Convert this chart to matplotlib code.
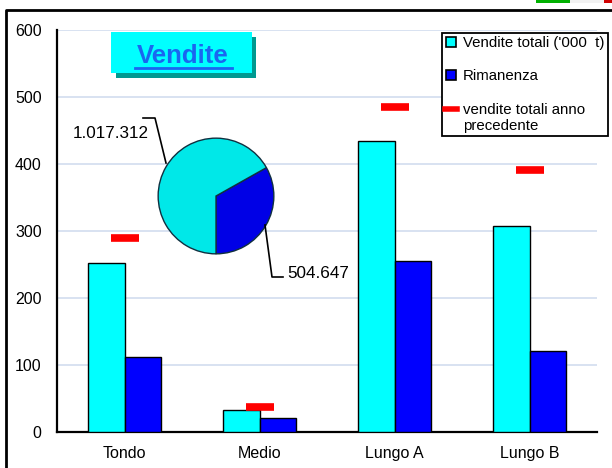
import numpy as np
import matplotlib.pyplot as plt
from matplotlib.lines import Line2D
from matplotlib.patches import Rectangle
from matplotlib.legend_handler import HandlerLine2D

plt.rcParams.update({
    'font.family': ['Liberation Sans', 'DejaVu Sans'],
    'font.size': 11.5,
})

# data
categories = ['Tondo', 'Medio', 'Lungo A', 'Lungo B']
vendite_totali = [252, 33, 434, 307]
rimanenza = [112, 21, 255, 121]
vendite_anno_prec = [290, 37, 485, 391]
pie_values = [504647, 1017312]          # rimanenza, vendite
pie_labels = ['504.647', '1.017.312']
yticks = [0, 100, 200, 300, 400, 500, 600]

CYAN = '#00ffff'
BLUE = '#0000ff'
RED = '#ff0000'

W, H = 612, 468
fig = plt.figure(figsize=(W / 100, H / 100), dpi=100)


def px(x, y):
    """pixel (from top-left) -> figure fraction"""
    return x / W, 1 - y / H


class ShiftedLine(HandlerLine2D):
    # put the dash next to the first line of a two-line label
    def create_artists(self, *args, **kwargs):
        arts = super().create_artists(*args, **kwargs)
        for a in arts:
            a.set_ydata(np.asarray(a.get_ydata()) + 6.5)
        return arts


# slide frame and flag
fig.add_artist(Line2D([6 / W, 6 / W, 1.0], [0.0, 1 - 10 / H, 1 - 10 / H],
                      transform=fig.transFigure, color='black', lw=2))
for x0, x1, c in [(536, 570, '#00b000'), (570, 604, '#f2f2f2'), (604, 612, '#d00000')]:
    fig.add_artist(Rectangle(px(x0, 3), (x1 - x0) / W, 3 / H,
                             transform=fig.transFigure, color=c, lw=0))

# main axes
ax = fig.add_axes([57 / W, (H - 432) / H, (597 - 57) / W, (432 - 30) / H])
x = list(range(len(categories)))
bw = 0.274
ax.bar([i - bw / 2 for i in x], vendite_totali, bw, color=CYAN,
       edgecolor='black', linewidth=1, zorder=3)
ax.bar([i + bw / 2 for i in x], rimanenza, bw, color=BLUE,
       edgecolor='black', linewidth=1, zorder=3)
ax.plot(x, vendite_anno_prec, ls='none', marker='_', ms=20, mew=5.5,
        color=RED, zorder=4)

ax.set_xlim(-0.5, 3.5)
ax.set_ylim(0, 600)
ax.set_yticks(yticks)
ax.set_xticks(x)
ax.set_xticklabels(categories)
ax.tick_params(axis='both', length=0)
ax.tick_params(axis='y', pad=11)
ax.tick_params(axis='x', pad=10)
ax.yaxis.grid(True, color='#d5dff0', lw=1.3, zorder=0)
ax.set_axisbelow(True)
for s in ['top', 'right']:
    ax.spines[s].set_visible(False)
for s in ['left', 'bottom']:
    ax.spines[s].set_linewidth(1.6)

# title box
fig.add_artist(Rectangle(px(116, 78), 140 / W, 41 / H, transform=fig.transFigure,
                         color='#009990', lw=0, zorder=5))
fig.add_artist(Rectangle(px(111, 73), 141 / W, 41 / H, transform=fig.transFigure,
                         color=CYAN, lw=0, zorder=6))
fig.text(*px(183, 56), 'Vendite', ha='center', va='center', fontsize=18.5,
         fontweight='bold', color='#1a66f0', zorder=7)
fig.add_artist(Line2D([135 / W, 232 / W], [1 - 68 / H, 1 - 68 / H],
                      transform=fig.transFigure, color='#1a66f0', lw=2, zorder=7))

# pie inset
cx, cy, r = 216, 196, 59
pax = fig.add_axes([(cx - r) / W, (H - cy - r) / H, 2 * r / W, 2 * r / H])
pax.pie(pie_values, colors=['#0000e6', '#00e8e8'], startangle=270,
        counterclock=True, radius=1,
        wedgeprops=dict(edgecolor='#103040', linewidth=1))
pax.set_xlim(-1.02, 1.02)
pax.set_ylim(-1.02, 1.02)
pax.set_zorder(5)

# pie labels with leader lines
fig.add_artist(Line2D([143 / W, 155 / W, 166 / W], [1 - 118 / H, 1 - 118 / H, 1 - 163 / H],
                      transform=fig.transFigure, color='black', lw=1.2, zorder=8))
fig.text(*px(149, 134), pie_labels[1], ha='right', va='center', fontsize=12.3)
fig.add_artist(Line2D([265 / W, 272 / W, 283 / W], [1 - 225 / H, 1 - 277 / H, 1 - 277 / H],
                      transform=fig.transFigure, color='black', lw=1.2, zorder=8))
fig.text(*px(287, 273), pie_labels[0], ha='left', va='center', fontsize=12.3)

# legend
h_red = Line2D([], [], color=RED, lw=4)
handles = [
    Line2D([], [], ls='none', marker='s', ms=7, mfc=CYAN, mec='black', mew=1.2),
    Line2D([], [], ls='none', marker='s', ms=7, mfc=BLUE, mec='black', mew=1.2),
    h_red,
]
labels = ["Vendite totali ('000  t)", 'Rimanenza', 'vendite totali anno\nprecedente']
leg = fig.legend(handles, labels, loc='upper left', bbox_to_anchor=px(442, 33),
                 frameon=True, fancybox=False, edgecolor='black', framealpha=1,
                 fontsize=10.8, handlelength=0.8, handletextpad=0.4,
                 labelspacing=1.3, borderpad=0.2, borderaxespad=0,
                 handler_map={h_red: ShiftedLine()})
leg.get_frame().set_linewidth(1.3)
leg.set_zorder(10)

fig.savefig('out.png', dpi=100)
